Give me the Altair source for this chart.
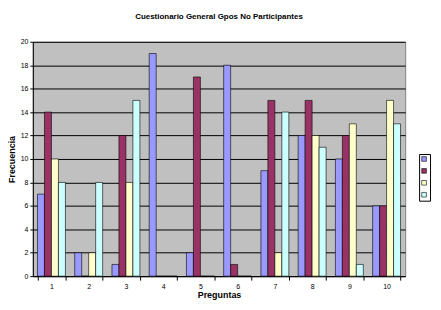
import altair as alt
import pandas as pd

preguntas = ["1", "2", "3", "4", "5", "6", "7", "8", "9", "10"]
series = ["Serie 1", "Serie 2", "Serie 3", "Serie 4"]
serie1 = [7, 2, 1, 19, 2, 18, 9, 12, 10, 6]
serie2 = [14, 0, 12, 0, 17, 1, 15, 15, 12, 6]
serie3 = [10, 2, 8, 0, 0, 0, 2, 12, 13, 15]
serie4 = [8, 8, 15, 0, 0, 0, 14, 11, 1, 13]
colors = ["#9999FF", "#993366", "#FFFFCC", "#CCFFFF"]

rows = []
for s, vals in zip(series, [serie1, serie2, serie3, serie4]):
    for p, v in zip(preguntas, vals):
        rows.append({"Pregunta": p, "Serie": s, "Frecuencia": v})
df = pd.DataFrame(rows)

chart = alt.Chart(df).mark_bar(stroke="black", strokeWidth=0.6).encode(
    x=alt.X("Pregunta:N", sort=preguntas,
            scale=alt.Scale(paddingInner=0.25, paddingOuter=0.125),
            axis=alt.Axis(title="Preguntas", labelAngle=0, labelFontSize=7,
                          labelColor="black", tickBand="extent", tickSize=4,
                          tickColor="black", domainColor="black", labelPadding=2,
                          titleFontSize=9, titleFontWeight="bold", titleColor="black",
                          titleY=19, titleBaseline="middle", grid=False)),
    xOffset=alt.XOffset("Serie:N", sort=series),
    y=alt.Y("Frecuencia:Q", scale=alt.Scale(domain=[0, 20]),
            axis=alt.Axis(title="Frecuencia", values=list(range(0, 21, 2)),
                          labelFontSize=7, labelColor="black", tickSize=3,
                          tickColor="black", domainColor="black", labelPadding=2,
                          gridColor="black", gridWidth=1, grid=True,
                          titleFontSize=9, titleFontWeight="bold", titleColor="black",
                          titleX=-21, titleY=118, titleAngle=-90,
                          titleAlign="center", titleBaseline="middle")),
    color=alt.Color("Serie:N", sort=series,
                    scale=alt.Scale(domain=series, range=colors),
                    legend=alt.Legend(title=None, orient="none", legendX=389,
                                      legendY=113, symbolType="square",
                                      symbolSize=22, symbolStrokeColor="black",
                                      symbolStrokeWidth=0.6, labelExpr="''",
                                      labelFontSize=1, labelLimit=1, padding=2,
                                      rowPadding=4, strokeColor="black",
                                      fillColor="white", labelOffset=0,
                                      symbolOpacity=1)),
).properties(
    width=375, height=236,
    title=alt.TitleParams("Cuestionario General Gpos No Participantes",
                          fontSize=8, fontWeight="bold", color="black", offset=17),
    autosize=alt.AutoSizeParams(type="none"),
    padding={"left": 25, "top": 33, "right": 28, "bottom": 25},
).configure(font="Liberation Sans").configure_view(
    fill="#C0C0C0", stroke="#808080", strokeWidth=1
)

chart.save("out.html", embed_options={"renderer": "svg", "actions": False})
